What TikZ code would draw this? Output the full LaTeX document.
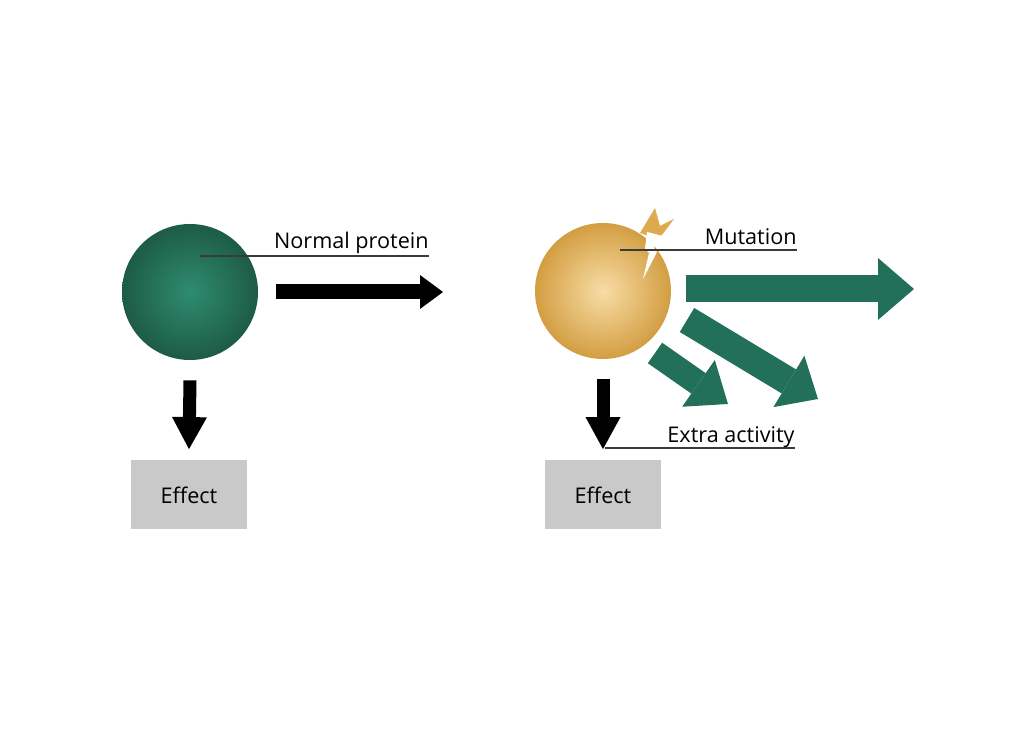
\documentclass[tikz,border=0pt]{standalone}
\usepackage{fontspec}
\setmainfont{Open Sans}
\usetikzlibrary{arrows.meta}

\definecolor{normalin}{HTML}{2F8C6E}
\definecolor{normalout}{HTML}{1D5B47}
\definecolor{mutin}{HTML}{F8DDA6}
\definecolor{mutout}{HTML}{D39E42}
\definecolor{burst}{HTML}{DDAA50}
\definecolor{activegreen}{HTML}{22705A}
\definecolor{effectgray}{HTML}{C9C9C9}
\definecolor{leadergray}{HTML}{3A3A3A}

\begin{document}
\begin{tikzpicture}[x=0.5pt, y=-0.5pt, every node/.style={font=\fontsize{10.8}{13}\selectfont},
    blackright/.style={draw=black, line width=7.5pt, -{Triangle[length=11.5pt, width=17pt, line width=0pt]}},
    blackdown/.style={draw=black, line width=6.5pt, -{Triangle[length=16pt, width=17.5pt, line width=0pt]}},
    leader/.style={draw=leadergray, line width=0.55pt},
    effectbox/.style={fill=effectgray, minimum width=58pt, minimum height=34.5pt, inner sep=0pt},
    sphere/.style={circle, minimum size=68pt, inner sep=0pt}]
  \useasboundingbox (0,0) rectangle (1024,747);

  % left: normal protein
  \node[sphere, inner color=normalin, outer color=normalout] (normal) at (190,292) {};
  \node[effectbox] (effN) at (189,495) {Effect};
  \coordinate (npin) at (200,256);
  \node[anchor=base east, inner sep=0pt] (nlab) at (429,249) {Normal protein};
  \draw[leader] (npin) -- (npin -| nlab.east);

  \coordinate (nout) at (276,292);
  \coordinate (nend) at (443,292);
  \draw[blackright] (nout) -- (nend);
  \draw[blackdown] ([yshift=-10pt]normal.south) -- ([yshift=5.5pt]effN.north);

  % right: mutated protein
  \node[sphere, inner color=mutin, outer color=mutout] (mutant) at (603,291) {};
  \fill[burst] (640,233) -- (655,208) -- (660,226) -- (674,219) -- (662,235) -- (651,237) -- cycle;
  \fill[white] (647,232) -- (659,235) -- (654,248) -- (657,252) -- (643,279) -- (649,253) -- (645,249) -- cycle;
  \node[effectbox] (effM) at (603,495) {Effect};
  \coordinate (mpin) at (620,250);
  \node[anchor=base east, inner sep=0pt] (mlab) at (797,245) {Mutation};
  \draw[leader] (mpin) -- (mpin -| mlab.east);

  \node[anchor=base east, inner sep=0pt] (xlab) at (795,443) {Extra activity};
  \coordinate (xpin) at (605,448);
  \draw[leader] (xpin) -- (xpin -| xlab.east);

  \draw[blackdown] ([yshift=-10pt]mutant.south) -- ([yshift=5.5pt]effM.north);

  \coordinate (g1s) at (686,289);
  \coordinate (g1e) at (914,289);
  \coordinate (g2s) at (687,320);
  \coordinate (g2e) at (818,399);
  \coordinate (g3s) at (655,353);
  \coordinate (g3e) at (728,404);
  \draw[draw=activegreen, line width=13.5pt, -{Triangle[length=18pt, width=31pt, line width=0pt]}] (g1s) -- (g1e);
  \draw[draw=activegreen, line width=14pt, -{Triangle[length=17pt, width=30pt, line width=0pt]}] (g2s) -- (g2e);
  \draw[draw=activegreen, line width=12.5pt, -{Triangle[length=18pt, width=28.5pt, line width=0pt]}] (g3s) -- (g3e);
\end{tikzpicture}
\end{document}
